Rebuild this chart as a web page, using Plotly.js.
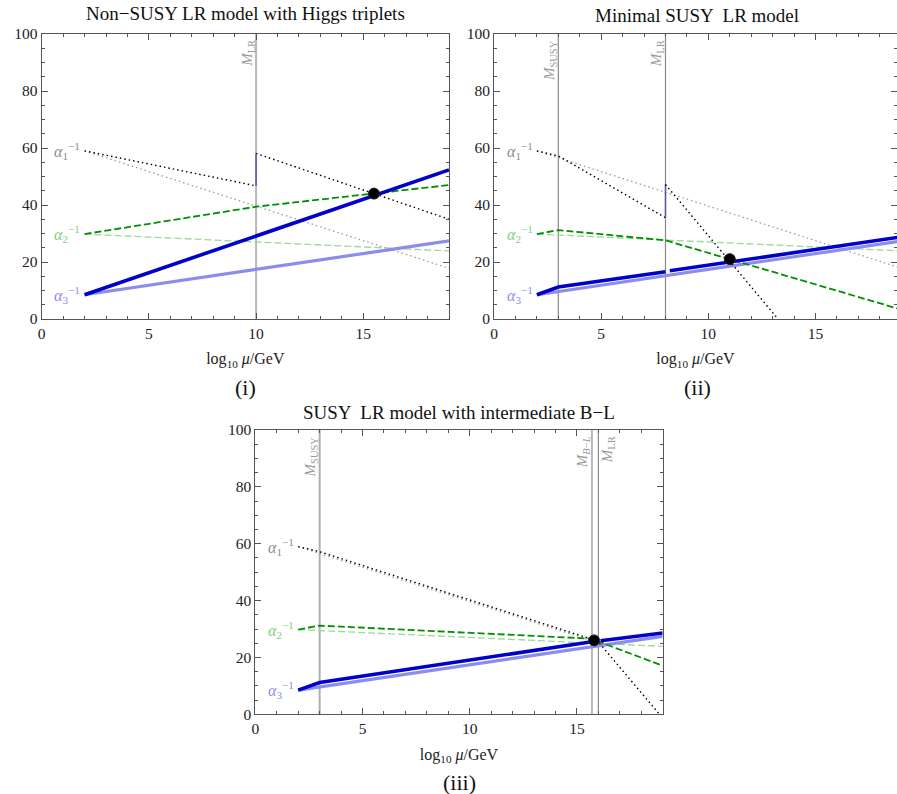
<!DOCTYPE html>
<html>
<head>
<meta charset="utf-8">
<script src="https://cdn.plot.ly/plotly-3.0.1.min.js"></script>
<style>html,body{margin:0;padding:0;background:#fff;}#chart{width:897px;height:794px;}</style>
</head>
<body>
<div id="chart"></div>
<script>
// ---------- Data ----------
// Standard-Model running (light reference lines), common to all panels
const smX = [2, 19];
const smA1 = [59, 17.8];
const smA2 = [29.8, 23.9];
const smA3 = [8.5, 27.4];

// Panel (i): Non-SUSY LR model with Higgs triplets
const p1Thresholds = [10];
const p1A1loX = [2, 10], p1A1loY = [59, 46.7];
const p1A1hiX = [10, 19], p1A1hiY = [58.1, 35.0];
const p1JumpX = [10, 10], p1JumpY = [46.7, 58.1];
const p1A2X = [2, 10, 19], p1A2Y = [29.8, 39.4, 47.0];
const p1A3X = [2, 19], p1A3Y = [8.5, 52.3];
const p1UnifX = [15.5], p1UnifY = [44.0];

// Panel (ii): Minimal SUSY LR model
const p2Thresholds = [3, 8];
const p2SmA1X = [2, 19], p2SmA1Y = [59, 17.8];
const p2A1loX = [2, 3, 8], p2A1loY = [59, 57.2, 35.5];
const p2JumpX = [8, 8], p2JumpY = [35.5, 47.2];
const p2A1hiX = [8, 13.25], p2A1hiY = [47.2, 0];
const p2A2X = [2, 3, 8, 19], p2A2Y = [29.8, 31.2, 27.6, 3.3];
const p2A3loX = [2, 3, 8], p2A3loY = [8.5, 11.2, 16.6];
const p2A3hiX = [8.2, 19], p2A3hiY = [16.9, 28.8];
const p2UnifX = [11], p2UnifY = [21];

// Panel (iii): SUSY LR model with intermediate B-L
const p3Thresholds = [3, 15.7, 16];
const p3SmA1X = [2, 15.8], p3SmA1Y = [59, 25.6];
const p3A1loX = [2, 3, 15.7], p3A1loY = [59, 57.2, 26.4];
const p3A1hiX = [16.05, 18.85], p3A1hiY = [25.0, 0];
const p3A2X = [2, 3, 15.7, 16, 19], p3A2Y = [29.8, 31.2, 26.6, 25.6, 17.1];
const p3A3loX = [2, 3, 15.7], p3A3loY = [8.5, 11.2, 25.5];
const p3A3hiX = [16.1, 19], p3A3hiY = [25.9, 28.6];
const p3UnifX = [15.8], p3UnifY = [26];

// Tick values
const xTicks = [0, 5, 10, 15];
const yTicks = [0, 20, 40, 60, 80, 100];

// ---------- Styles ----------
const FONT = 'Liberation Serif, Times New Roman, serif';
const sGrayDot = {color: '#9a9a9a', width: 1.3, dash: '1.5px,3px'};
const sBlackDot = {color: '#000000', width: 1.4, dash: '1.5px,3px'};
const sLightGreen = {color: '#9ad89a', width: 1.3, dash: '7px,3px'};
const sDarkGreen = {color: '#009000', width: 1.8, dash: '7px,3px'};
const sLightBlue = {color: '#8c8cee', width: 3.2};
const sDarkBlue = {color: '#0000c8', width: 3.6};
const sJump = {color: '#5858b0', width: 1.5};

function line(x, y, style, xa, ya) {
  return {x: x, y: y, type: 'scatter', mode: 'lines', line: style, xaxis: xa, yaxis: ya,
          hoverinfo: 'skip', showlegend: false};
}
function dot(x, y, xa, ya) {
  return {x: x, y: y, type: 'scatter', mode: 'markers', xaxis: xa, yaxis: ya,
          marker: {color: '#000', size: 11, line: {color: '#222', width: 1}},
          hoverinfo: 'skip', showlegend: false};
}

const traces = [
  // Panel (i)
  line(smX, smA1, sGrayDot, 'x', 'y'),
  line(smX, smA2, sLightGreen, 'x', 'y'),
  line(smX, smA3, sLightBlue, 'x', 'y'),
  line(p1A1loX, p1A1loY, sBlackDot, 'x', 'y'),
  line(p1A1hiX, p1A1hiY, sBlackDot, 'x', 'y'),
  line(p1JumpX, p1JumpY, sJump, 'x', 'y'),
  line(p1A2X, p1A2Y, sDarkGreen, 'x', 'y'),
  line(p1A3X, p1A3Y, sDarkBlue, 'x', 'y'),
  dot(p1UnifX, p1UnifY, 'x', 'y'),
  // Panel (ii)
  line(p2SmA1X, p2SmA1Y, sGrayDot, 'x2', 'y2'),
  line(smX, smA2, sLightGreen, 'x2', 'y2'),
  line(smX, smA3, sLightBlue, 'x2', 'y2'),
  line(p2A1loX, p2A1loY, sBlackDot, 'x2', 'y2'),
  line(p2JumpX, p2JumpY, sJump, 'x2', 'y2'),
  line(p2A1hiX, p2A1hiY, sBlackDot, 'x2', 'y2'),
  line(p2A2X, p2A2Y, sDarkGreen, 'x2', 'y2'),
  line(p2A3loX, p2A3loY, sDarkBlue, 'x2', 'y2'),
  line(p2A3hiX, p2A3hiY, sDarkBlue, 'x2', 'y2'),
  dot(p2UnifX, p2UnifY, 'x2', 'y2'),
  // Panel (iii)
  line(p3SmA1X, p3SmA1Y, sGrayDot, 'x3', 'y3'),
  line(smX, smA2, sLightGreen, 'x3', 'y3'),
  line(smX, smA3, sLightBlue, 'x3', 'y3'),
  line(p3A1loX, p3A1loY, sBlackDot, 'x3', 'y3'),
  line(p3A1hiX, p3A1hiY, sBlackDot, 'x3', 'y3'),
  line(p3A2X, p3A2Y, sDarkGreen, 'x3', 'y3'),
  line(p3A3loX, p3A3loY, sDarkBlue, 'x3', 'y3'),
  line(p3A3hiX, p3A3hiY, sDarkBlue, 'x3', 'y3'),
  dot(p3UnifX, p3UnifY, 'x3', 'y3')
];

// ---------- Axes ----------
function xAxis(domain, range, anchor) {
  return {
    domain: domain, range: range, anchor: anchor,
    tickvals: xTicks, ticks: 'inside', ticklen: 6, tickcolor: '#555',
    showline: true, linecolor: '#555', linewidth: 1, mirror: 'allticks',
    showgrid: false, zeroline: false,
    minor: {dtick: 1, tick0: 0, ticks: 'inside', ticklen: 3, tickcolor: '#555', showgrid: false},
    tickfont: {family: FONT, size: 15.5, color: '#222'},
    title: {text: 'log<sub>10</sub> <i>μ</i>/GeV', font: {family: FONT, size: 16, color: '#222'}, standoff: 12},
    automargin: false
  };
}
function yAxis(domain, anchor) {
  return {
    domain: domain, range: [0, 100], anchor: anchor,
    tickvals: yTicks, ticks: 'inside', ticklen: 6, tickcolor: '#555',
    showline: true, linecolor: '#555', linewidth: 1, mirror: 'allticks',
    showgrid: false, zeroline: false,
    minor: {dtick: 5, tick0: 0, ticks: 'inside', ticklen: 3, tickcolor: '#555', showgrid: false},
    tickfont: {family: FONT, size: 15.5, color: '#222'},
    automargin: false
  };
}

const W = 897, H = 794;
const px = v => v / W;
const py = v => 1 - v / H;

// ---------- Threshold lines and labels ----------
const shapes = [];
const annotations = [];
function vline(x, xref, yref, color, width) {
  shapes.push({type: 'line', xref: xref, yref: yref + ' domain', x0: x, x1: x, y0: 0, y1: 1,
               line: {color: color, width: width}, layer: 'below'});
}
function vlabel(text, x, xref, yref, shift) {
  annotations.push({text: text, x: x, y: 98.5, xref: xref, yref: yref, xanchor: 'center', yanchor: 'top',
                    textangle: -90, showarrow: false, xshift: shift,
                    font: {family: FONT, size: 15, color: '#999'}});
}
vline(p1Thresholds[0], 'x', 'y', '#b8b8b8', 2);
vlabel('<i>M</i><sub>LR</sub>', p1Thresholds[0], 'x', 'y', -8);
vline(p2Thresholds[0], 'x2', 'y2', '#8a8a8a', 1.2);
vline(p2Thresholds[1], 'x2', 'y2', '#8a8a8a', 1.2);
vlabel('<i>M</i><sub>SUSY</sub>', p2Thresholds[0], 'x2', 'y2', -9);
vlabel('<i>M</i><sub>LR</sub>', p2Thresholds[1], 'x2', 'y2', -9);
vline(p3Thresholds[0], 'x3', 'y3', '#b0b0b0', 2);
vline(p3Thresholds[1], 'x3', 'y3', '#b8b8b8', 2);
vline(p3Thresholds[2], 'x3', 'y3', '#8a8a8a', 1.2);
vlabel('<i>M</i><sub>SUSY</sub>', p3Thresholds[0], 'x3', 'y3', -9);
vlabel('<i>M</i><sub><i>B</i>−<i>L</i></sub>', p3Thresholds[1], 'x3', 'y3', -9);
vlabel('<i>M</i><sub>LR</sub>', p3Thresholds[2], 'x3', 'y3', 9);

// alpha labels
function alphaLabels(xref, yref) {
  const lab = [
    {t: '<i>α</i><sub>1</sub><sup>−1</sup>', y: smA1[0], c: '#8c8c8c'},
    {t: '<i>α</i><sub>2</sub><sup>−1</sup>', y: smA2[0], c: '#7fd07f'},
    {t: '<i>α</i><sub>3</sub><sup>−1</sup>', y: smA3[0], c: '#8c8cee'}
  ];
  lab.forEach(l => annotations.push({text: l.t, x: 1.9, y: l.y, xref: xref, yref: yref,
    xanchor: 'right', yanchor: 'middle', showarrow: false,
    font: {family: FONT, size: 16, color: l.c}}));
}
alphaLabels('x', 'y');
alphaLabels('x2', 'y2');
alphaLabels('x3', 'y3');

// titles and panel labels
function ptext(text, x, y, size) {
  annotations.push({text: text, x: px(x), y: py(y), xref: 'paper', yref: 'paper',
    xanchor: 'center', yanchor: 'middle', showarrow: false,
    font: {family: FONT, size: size, color: '#111'}});
}
ptext('Non−SUSY LR model with Higgs triplets', 245, 14, 19);
ptext('Minimal SUSY  LR model', 697, 16, 19);
ptext('SUSY  LR model with intermediate B−L', 459, 412, 19);
ptext('(i)', 245, 387, 22);
ptext('(ii)', 697, 387, 22);
ptext('(iii)', 459, 782, 22);

const layout = {
  width: W, height: H,
  margin: {l: 0, r: 0, t: 0, b: 0},
  paper_bgcolor: '#fff', plot_bgcolor: '#fff',
  showlegend: false,
  font: {family: FONT},
  xaxis: xAxis([px(41.7), px(449)], [0, 19], 'y'),
  yaxis: yAxis([py(319), py(34)], 'x'),
  xaxis2: xAxis([px(494), 1], [0, 18.8], 'y2'),
  yaxis2: yAxis([py(319), py(34)], 'x2'),
  xaxis3: xAxis([px(255.3), px(662.7)], [0, 19], 'y3'),
  yaxis3: yAxis([py(714.3), py(430)], 'x3'),
  shapes: shapes,
  annotations: annotations
};

Plotly.newPlot('chart', traces, layout, {staticPlot: true, displayModeBar: false});
</script>
</body>
</html>
